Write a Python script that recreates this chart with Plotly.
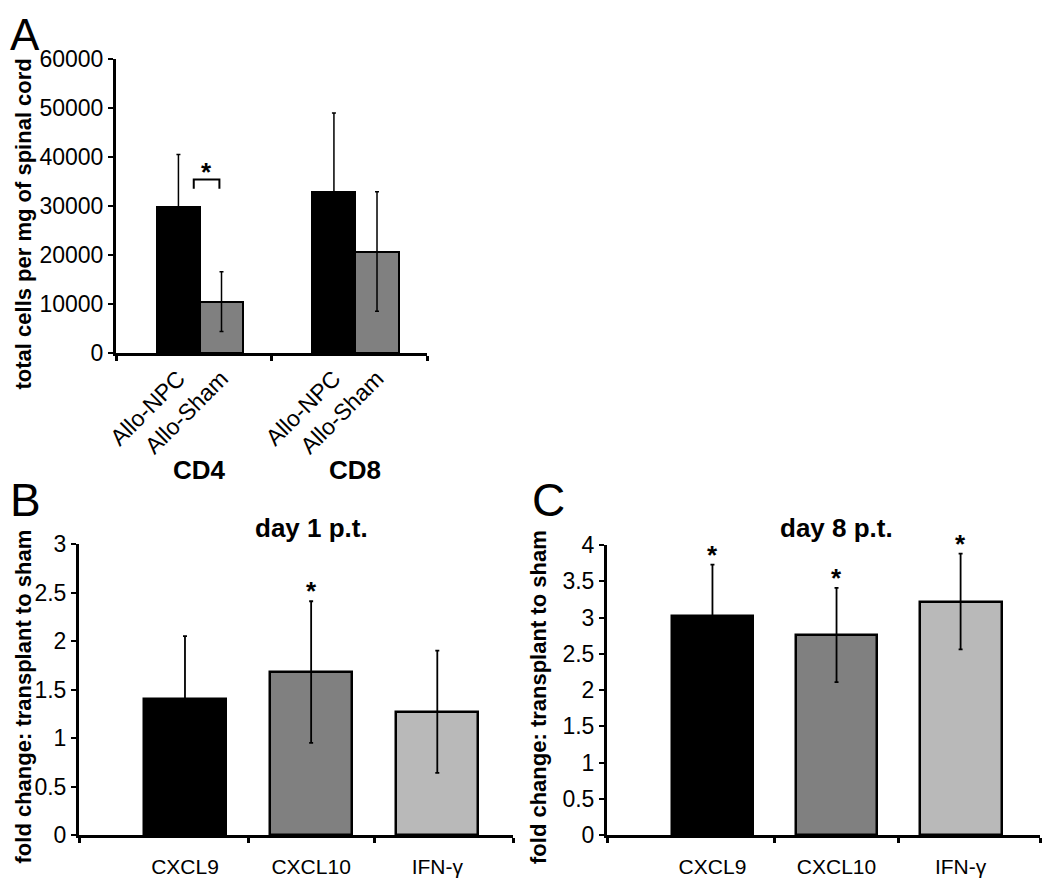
import plotly.graph_objects as go

# ---------------- data ----------------
# Panel A
a_groups = ["CD4", "CD8"]
a_series = ["Allo-NPC", "Allo-Sham"]
a_npc = [29700, 32800]
a_npc_err = [10800, 16200]
a_sham = [10500, 20700]
a_sham_err = [6100, 12200]
a_bracket_x = [0.0, 0.165]
a_bracket_y = [33500, 35400]
a_yticks = [0, 10000, 20000, 30000, 40000, 50000, 60000]

# Panel B (day 1 p.t.)
b_cats = ["CXCL9", "CXCL10", "IFN-γ"]
b_vals = [1.40, 1.68, 1.27]
b_err = [0.65, 0.73, 0.63]
b_sig = [False, True, False]
b_yticks = [0, 0.5, 1, 1.5, 2, 2.5, 3]

# Panel C (day 8 p.t.)
c_cats = ["CXCL9", "CXCL10", "IFN-γ"]
c_vals = [3.02, 2.76, 3.22]
c_err = [0.71, 0.65, 0.66]
c_sig = [True, True, True]
c_yticks = [0, 0.5, 1, 1.5, 2, 2.5, 3, 3.5, 4]

bar_colors = ["#000000", "#808080", "#b9b9b9"]
FONT = "Liberation Sans, Arial, sans-serif"

# page body has an 8px margin; size the figure so it fills the rest of the 1050x878 window
W, H, OFF = 1034, 870, 8


def px(x):
    return (x - OFF) / W


def py(y):
    return 1 - (y - OFF) / H


fig = go.Figure()

# ---------- Panel A ----------
shift = 0.04
half = 0.1385
npc_x = [i + shift - half for i in range(len(a_groups))]
sham_x = [i + shift + half for i in range(len(a_groups))]
fig.add_trace(go.Bar(x=npc_x, y=a_npc, width=0.277, marker=dict(color=bar_colors[0], line=dict(color="black", width=2)),
                     error_y=dict(type="data", array=a_npc_err, color="black", thickness=1.5, width=2),
                     xaxis="x", yaxis="y", showlegend=False))
fig.add_trace(go.Bar(x=sham_x, y=a_sham, width=0.277, marker=dict(color=bar_colors[1], line=dict(color="black", width=2)),
                     error_y=dict(type="data", array=a_sham_err, color="black", thickness=1.5, width=2),
                     xaxis="x", yaxis="y", showlegend=False))

# bracket
fig.add_trace(go.Scatter(x=[a_bracket_x[0], a_bracket_x[0], a_bracket_x[1], a_bracket_x[1]],
                         y=[a_bracket_y[0], a_bracket_y[1], a_bracket_y[1], a_bracket_y[0]],
                         mode="lines", line=dict(color="black", width=2), xaxis="x", yaxis="y",
                         showlegend=False, hoverinfo="skip"))

# ---------- Panel B ----------
fig.add_trace(go.Bar(x=list(range(len(b_cats))), y=b_vals, width=0.65,
                     marker=dict(color=bar_colors, line=dict(color="black", width=2.5)),
                     error_y=dict(type="data", array=b_err, color="black", thickness=1.8, width=2),
                     xaxis="x2", yaxis="y2", showlegend=False))
# ---------- Panel C ----------
fig.add_trace(go.Bar(x=list(range(len(c_cats))), y=c_vals, width=0.66,
                     marker=dict(color=bar_colors, line=dict(color="black", width=2.5)),
                     error_y=dict(type="data", array=c_err, color="black", thickness=1.8, width=2),
                     xaxis="x3", yaxis="y3", showlegend=False))

base = dict(showline=True, linecolor="black", linewidth=3, showgrid=False, zeroline=False,
            tickcolor="black", automargin=False)

ticks_a = []
ticktext_a = []
for i in range(len(a_groups)):
    ticks_a += [npc_x[i], sham_x[i]]
    ticktext_a += a_series

fig.update_layout(
    width=W, height=H, margin=dict(l=0, r=0, t=0, b=0, autoexpand=False),
    paper_bgcolor="white", plot_bgcolor="white", bargap=0,
    font=dict(family=FONT, color="black"),
    xaxis=dict(domain=[px(116), px(427)], range=[-0.5, 1.5], anchor="y",
               tickvals=ticks_a, ticktext=ticktext_a, tickangle=-45, ticks="",
               minor=dict(tickvals=[-0.5, 0.5, 1.5], ticks="outside", ticklen=5, tickwidth=3, tickcolor="black"),
               tickfont=dict(family=FONT, size=23, color="black"), **base),
    yaxis=dict(domain=[py(353), py(59)], range=[0, 60000], anchor="x",
               tickvals=a_yticks, ticktext=[str(v) for v in a_yticks], ticks="outside", ticklen=5, tickwidth=2,
               tickfont=dict(family=FONT, size=23, color="black"), **base),
    xaxis2=dict(domain=[px(79), px(513)], range=[-0.84, 2.6], anchor="y2",
                tickvals=list(range(len(b_cats))), ticktext=b_cats, ticks="", ticklabelstandoff=11,
                minor=dict(tickvals=[-0.84, 0.5, 1.5, 2.6], ticks="outside", ticklen=5, tickwidth=3, tickcolor="black"),
                tickfont=dict(family=FONT, size=21, color="black"), **base),
    yaxis2=dict(domain=[py(835), py(544)], range=[0, 3], anchor="x2",
                tickvals=b_yticks, ticktext=[("%g" % v) for v in b_yticks],
                ticks="outside", ticklen=5, tickwidth=2, tickfont=dict(family=FONT, size=23, color="black"), **base),
    xaxis3=dict(domain=[px(607), px(1040)], range=[-0.85, 2.64], anchor="y3",
                tickvals=list(range(len(c_cats))), ticktext=c_cats, ticks="", ticklabelstandoff=11,
                minor=dict(tickvals=[-0.85, 0.5, 1.5, 2.64], ticks="outside", ticklen=5, tickwidth=3, tickcolor="black"),
                tickfont=dict(family=FONT, size=21, color="black"), **base),
    yaxis3=dict(domain=[py(835), py(545)], range=[0, 4], anchor="x3",
                tickvals=c_yticks, ticktext=[("%g" % v) for v in c_yticks],
                ticks="outside", ticklen=5, tickwidth=2, tickfont=dict(family=FONT, size=23, color="black"), **base),
)

ann = []
# panel letters
ann.append(dict(text="A", x=0, y=1, xref="paper", yref="paper", showarrow=False,
                 font=dict(family=FONT, size=44, color="black"), xanchor="left", yanchor="top"))
ann.append(dict(text="B", x=0, y=py(500), xref="paper", yref="paper", showarrow=False,
                font=dict(family=FONT, size=46, color="black"), xanchor="left", yanchor="middle"))
ann.append(dict(text="C", x=px(548), y=py(500), xref="paper", yref="paper", showarrow=False,
                font=dict(family=FONT, size=46, color="black"), xanchor="center", yanchor="middle"))
# y titles
ann.append(dict(text="<b>total cells per mg of spinal cord</b>", x=0, y=py(224), xref="paper", yref="paper",
                textangle=-90, showarrow=False, font=dict(family=FONT, size=22, color="black"),
                xanchor="left", yanchor="middle"))
ann.append(dict(text="<b>fold change: transplant to sham</b>", x=0, y=py(697), xref="paper", yref="paper",
                textangle=-90, showarrow=False, font=dict(family=FONT, size=22, color="black"),
                xanchor="left", yanchor="middle"))
ann.append(dict(text="<b>fold change: transplant to sham</b>", x=px(538), y=py(697), xref="paper", yref="paper",
                textangle=-90, showarrow=False, font=dict(family=FONT, size=22, color="black"),
                xanchor="center", yanchor="middle"))
# group labels in A
for i, g in enumerate(a_groups):
    ann.append(dict(text="<b>%s</b>" % g, x=i + shift, y=py(470), xref="x", yref="paper", showarrow=False,
                    font=dict(family=FONT, size=26, color="black"), xanchor="center", yanchor="middle"))
# panel titles
ann.append(dict(text="<b>day 1 p.t.</b>", x=1, y=py(528), xref="x2", yref="paper", showarrow=False,
                font=dict(family=FONT, size=26, color="black"), xanchor="center", yanchor="middle"))
ann.append(dict(text="<b>day 8 p.t.</b>", x=1, y=py(528), xref="x3", yref="paper", showarrow=False,
                font=dict(family=FONT, size=26, color="black"), xanchor="center", yanchor="middle"))
# stars
star_font = dict(family=FONT, size=26, color="black")
ann.append(dict(text="<b>*</b>", x=sum(a_bracket_x)/2, y=a_bracket_y[1], xref="x", yref="y", showarrow=False,
                font=star_font, xanchor="center", yanchor="middle", yshift=8))
for i, s in enumerate(b_sig):
    if s:
        ann.append(dict(text="<b>*</b>", x=i, y=b_vals[i] + b_err[i], xref="x2", yref="y2", showarrow=False,
                        font=star_font, xanchor="center", yanchor="middle", yshift=10))
for i, s in enumerate(c_sig):
    if s:
        ann.append(dict(text="<b>*</b>", x=i, y=c_vals[i] + c_err[i], xref="x3", yref="y3", showarrow=False,
                        font=star_font, xanchor="center", yanchor="middle", yshift=10))
fig.update_layout(annotations=ann)

fig.write_html("out.html")
